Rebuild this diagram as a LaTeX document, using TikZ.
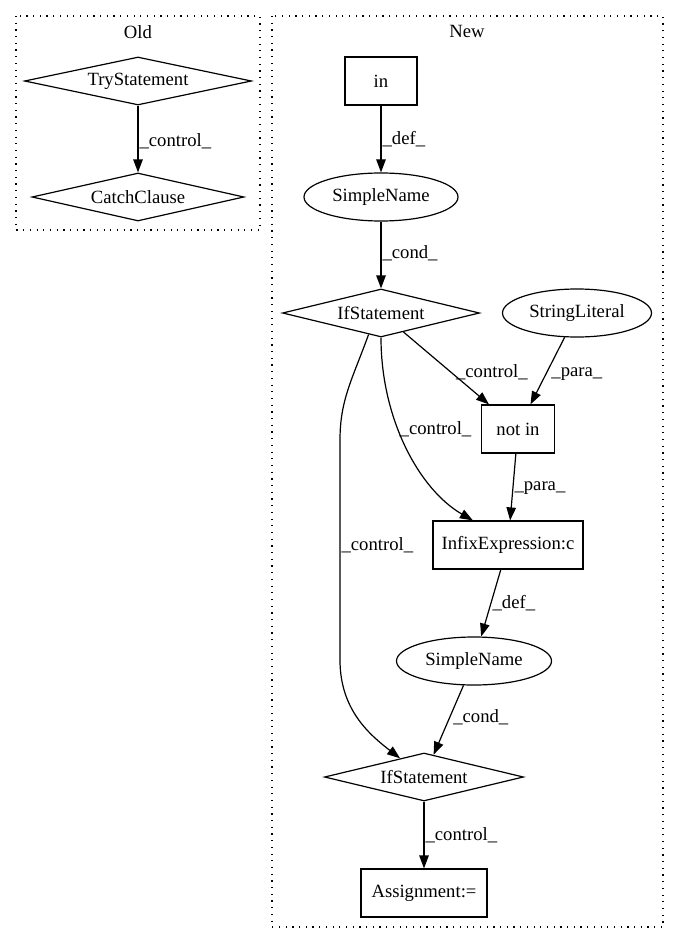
\documentclass[tikz,border=0pt]{standalone}
\usepackage{fontspec}
\setmainfont{Liberation Serif}
\usetikzlibrary{arrows.meta}
\usetikzlibrary{shapes.geometric}

\begin{document}
\begin{tikzpicture}[x=1pt,y=-1pt,line width=1.2pt,>={Triangle[length=13pt,width=9.5pt]},
  every node/.style={font=\fontsize{18.67pt}{22pt}\selectfont},
  box/.style={draw,rectangle,inner sep=0pt,minimum height=48pt},
  oval/.style={draw,ellipse,inner sep=0pt,minimum height=48pt},
  rhomb/.style={draw,diamond,aspect=4,inner sep=0pt,minimum height=48pt},
  lbl/.style={draw=none,inner sep=1pt,right},
  cluster/.style={dash pattern=on 1.2pt off 5.5pt}]
\useasboundingbox (0,0) rectangle (679,944);

\draw[cluster] (16,16) rectangle (260,230);
\node (old) at (138,32) {Old};
\draw[cluster] (272,16) rectangle (663,927);
\node (new) at (467,31) {New};

\node[rhomb,minimum width=227pt] (try) at (138,81) {TryStatement};
\node[rhomb,minimum width=212pt] (catch) at (138,197) {CatchClause};

\node[box,minimum width=72pt] (in) at (381,81) {in};
\node[oval,minimum width=154pt] (sn1) at (381,197) {SimpleName};
\node[rhomb,minimum width=197pt] (if1) at (381,313) {IfStatement};
\node[oval,minimum width=149pt] (str) at (577,313) {StringLiteral};
\node[box,minimum width=73pt] (notin) at (518,429) {not in};
\node[box,minimum width=150pt] (infix) at (508,545) {InfixExpression:c};
\node[oval,minimum width=155pt] (sn2) at (474,661) {SimpleName};
\node[rhomb,minimum width=199pt] (if2) at (424,777) {IfStatement};
\node[box,minimum width=126pt] (assign) at (424,893) {Assignment:=};

\draw[->] (try) -- node[lbl,pos=0.54] {\_control\_} (catch);
\draw[->] (in) -- node[lbl,pos=0.5] {\_def\_} (sn1);
\draw[->] (sn1) -- node[lbl,pos=0.48] {\_cond\_} (if1);
\draw[->] (if1) -- node[lbl,pos=0.55,xshift=4pt] {\_control\_} (notin);
\draw[->] (str) -- node[lbl,pos=0.55,xshift=4pt] {\_para\_} (notin);
\draw[->] (notin) -- node[lbl,pos=0.51] {\_para\_} (infix);
\draw[->] (if1.south) .. controls (381,420) and (420,490) .. node[lbl,pos=0.4] {\_control\_} (infix.145);
\draw[->] (if1.240) .. controls (352,380) and (340,400) .. (340,440)
  -- node[lbl,pos=0.48] {\_control\_} (340,660) .. controls (340,710) and (370,735) .. (if2.142);
\draw[->] (infix) -- node[lbl,pos=0.5] {\_def\_} (sn2);
\draw[->] (sn2) -- node[lbl,pos=0.46,xshift=2pt] {\_cond\_} (if2);
\draw[->] (if2) -- node[lbl,pos=0.5] {\_control\_} (assign);
\end{tikzpicture}
\end{document}
